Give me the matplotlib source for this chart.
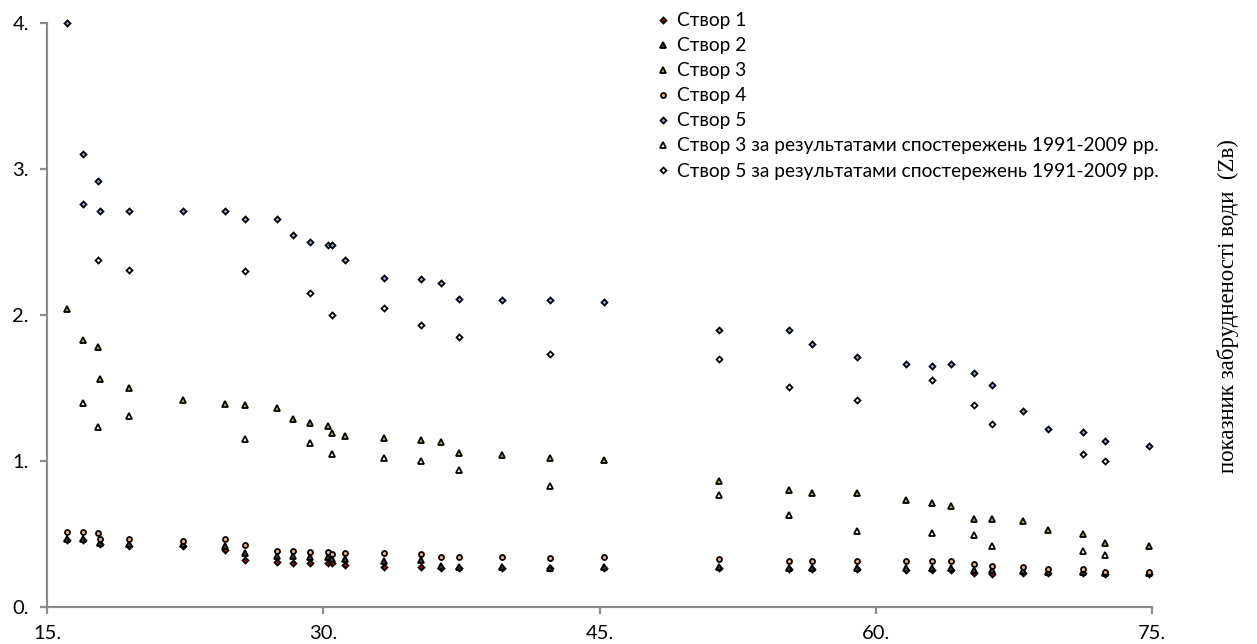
import numpy as np
import matplotlib
matplotlib.use("Agg")
import matplotlib.pyplot as plt

plt.rcParams['font.family'] = ['Lato', 'Noto Sans', 'DejaVu Sans']

# Створ 1
x1 = [16.07, 16.97, 17.88, 19.47, 22.37, 24.68, 25.77, 27.47, 28.37, 29.28, 30.27, 30.49, 31.2, 33.3, 35.29,
      36.37, 37.38, 39.72, 42.29, 45.22, 51.5, 55.3, 56.51, 59.0, 61.62, 63.03, 64.11, 65.34, 66.32, 68.02,
      69.33, 71.24, 72.44, 74.83]
y1 = [0.46, 0.46, 0.43, 0.42, 0.415, 0.39, 0.32, 0.31, 0.303, 0.303, 0.303, 0.303, 0.288, 0.276, 0.276,
      0.27, 0.27, 0.268, 0.265, 0.27, 0.268, 0.262, 0.262, 0.262, 0.255, 0.255, 0.255, 0.23, 0.224, 0.23,
      0.232, 0.23, 0.228, 0.228]

# Створ 2
x2 = x1
y2 = [0.464, 0.464, 0.44, 0.43, 0.43, 0.42, 0.372, 0.351, 0.351, 0.345, 0.34, 0.33, 0.327, 0.317, 0.32,
      0.28, 0.276, 0.275, 0.27, 0.276, 0.275, 0.27, 0.27, 0.27, 0.265, 0.265, 0.265, 0.25, 0.25, 0.245,
      0.24, 0.24, 0.235, 0.235]

# Створ 3
x3 = [16.07, 16.97, 17.75, 17.88, 19.47, 22.37, 24.68, 25.77, 27.47, 28.37, 29.28, 30.27, 30.49, 31.2, 33.3,
      35.29, 36.37, 37.38, 39.72, 42.29, 45.22, 51.5, 55.3, 56.51, 59.0, 61.62, 63.03, 64.11, 65.34, 66.32,
      68.02, 69.33, 71.24, 72.44, 74.83]
y3 = [2.04, 1.83, 1.78, 1.56, 1.50, 1.42, 1.39, 1.38, 1.36, 1.29, 1.26, 1.24, 1.19, 1.17, 1.16,
      1.145, 1.128, 1.052, 1.04, 1.02, 1.01, 0.86, 0.80, 0.78, 0.78, 0.73, 0.71, 0.69, 0.60, 0.60,
      0.59, 0.53, 0.50, 0.44, 0.42]

# Створ 4
x4 = [16.07, 16.97, 17.75, 17.88, 19.47, 22.37, 24.68, 25.77, 27.47, 28.37, 29.28, 30.27, 30.49, 31.2, 33.3,
      35.29, 36.37, 37.38, 39.72, 42.29, 45.22, 51.5, 55.3, 56.51, 59.0, 61.62, 63.03, 64.11, 65.34, 66.32,
      68.02, 69.33, 71.24, 72.44, 74.83]
y4 = [0.516, 0.516, 0.505, 0.466, 0.466, 0.454, 0.466, 0.425, 0.386, 0.386, 0.374, 0.379, 0.363, 0.368, 0.368,
      0.361, 0.34, 0.34, 0.34, 0.333, 0.34, 0.327, 0.315, 0.315, 0.315, 0.315, 0.315, 0.315, 0.292, 0.283,
      0.272, 0.258, 0.258, 0.238, 0.238]

# Створ 5
x5 = [16.07, 16.97, 16.97, 17.75, 17.88, 19.47, 22.37, 24.68, 25.77, 27.47, 28.37, 29.28, 30.27, 30.49, 31.2,
      33.3, 35.29, 36.37, 37.38, 39.72, 42.29, 45.22, 51.5, 55.3, 56.51, 59.0, 61.62, 63.03, 64.11, 65.34,
      66.32, 68.02, 69.33, 71.24, 72.44, 74.83]
y5 = [4.0, 3.10, 2.76, 2.92, 2.71, 2.71, 2.71, 2.71, 2.66, 2.66, 2.55, 2.50, 2.48, 2.48, 2.38,
      2.25, 2.245, 2.22, 2.11, 2.10, 2.10, 2.09, 1.90, 1.90, 1.80, 1.715, 1.664, 1.65, 1.664, 1.60,
      1.52, 1.345, 1.22, 1.20, 1.14, 1.10]

# Створ 3, 1991-2009
x3_old = [16.97, 17.75, 19.47, 25.77, 29.28, 30.49, 33.3, 35.29, 37.38, 42.29, 51.5, 55.3, 59.0, 63.03, 65.34,
          66.32, 71.24, 72.44]
y3_old = [1.40, 1.23, 1.31, 1.15, 1.12, 1.05, 1.02, 1.00, 0.94, 0.83, 0.77, 0.63, 0.52, 0.51, 0.49,
          0.42, 0.38, 0.354]

# Створ 5, 1991-2009
x5_old = [17.75, 19.47, 25.77, 29.28, 30.49, 33.3, 35.29, 37.38, 42.29, 51.5, 55.3, 59.0, 63.03, 65.34, 66.32,
          71.24, 72.44]
y5_old = [2.38, 2.31, 2.30, 2.15, 2.00, 2.05, 1.93, 1.85, 1.73, 1.70, 1.505, 1.42, 1.555, 1.38, 1.253,
          1.05, 1.00]

labels = ['Створ 1', 'Створ 2', 'Створ 3', 'Створ 4', 'Створ 5',
          'Створ 3 за результатами спостережень 1991-2009 рр.',
          'Створ 5 за результатами спостережень 1991-2009 рр.']

fig = plt.figure(figsize=(12.57, 6.44), dpi=100)
ax = fig.add_axes([0.0374, 0.0575, 0.9165 - 0.0374, 0.9643 - 0.0575])

series = [
    (x1, y1, 'D', '#C00000', 3.0),
    (x2, y2, '^', '#404040', 4.6),
    (x3, y3, '^', '#9BBB59', 4.6),
    (x4, y4, 'o', '#F4B183', 3.6),
    (x5, y5, 'D', '#8EB4E3', 3.0),
    (x3_old, y3_old, '^', 'white', 4.6),
    (x5_old, y5_old, 'D', 'white', 3.0),
]
for (xs, ys, mk, fc, ms), lab in zip(series, labels):
    ax.plot(xs, ys, linestyle='none', marker=mk, markersize=ms, markerfacecolor=fc,
            markeredgecolor='black', markeredgewidth=1.3, label=lab, clip_on=False, zorder=3)

ax.set_xlim(15, 75)
ax.set_ylim(0, 4)
ax.set_xticks([15, 30, 45, 60, 75])
ax.set_xticklabels(['15.', '30.', '45.', '60.', '75.'])
ax.set_yticks([0, 1, 2, 3, 4])
ax.set_yticklabels(['0.', '1.', '2.', '3.', '4.'])

for s in ['top', 'right']:
    ax.spines[s].set_visible(False)
for s in ['left', 'bottom']:
    ax.spines[s].set_color('#8c8c8c')
    ax.spines[s].set_linewidth(1.6)
ax.tick_params(axis='both', colors='#8c8c8c', length=5, width=1.6, labelsize=14.5, labelcolor='black', pad=8)

ax.legend(loc='upper left', bbox_to_anchor=(0.524, 0.981), bbox_transform=fig.transFigure,
          frameon=False, fontsize=13.8, handlelength=0.5, handletextpad=0.45, labelspacing=0.42,
          borderpad=0, borderaxespad=0)

fig.text(0.977, 0.525, 'показник забрудненості води  (Zв)', rotation=90, ha='center', va='center',
         fontsize=16.5, family=['Liberation Serif', 'DejaVu Serif'])

fig.savefig('out.png', dpi=100)
